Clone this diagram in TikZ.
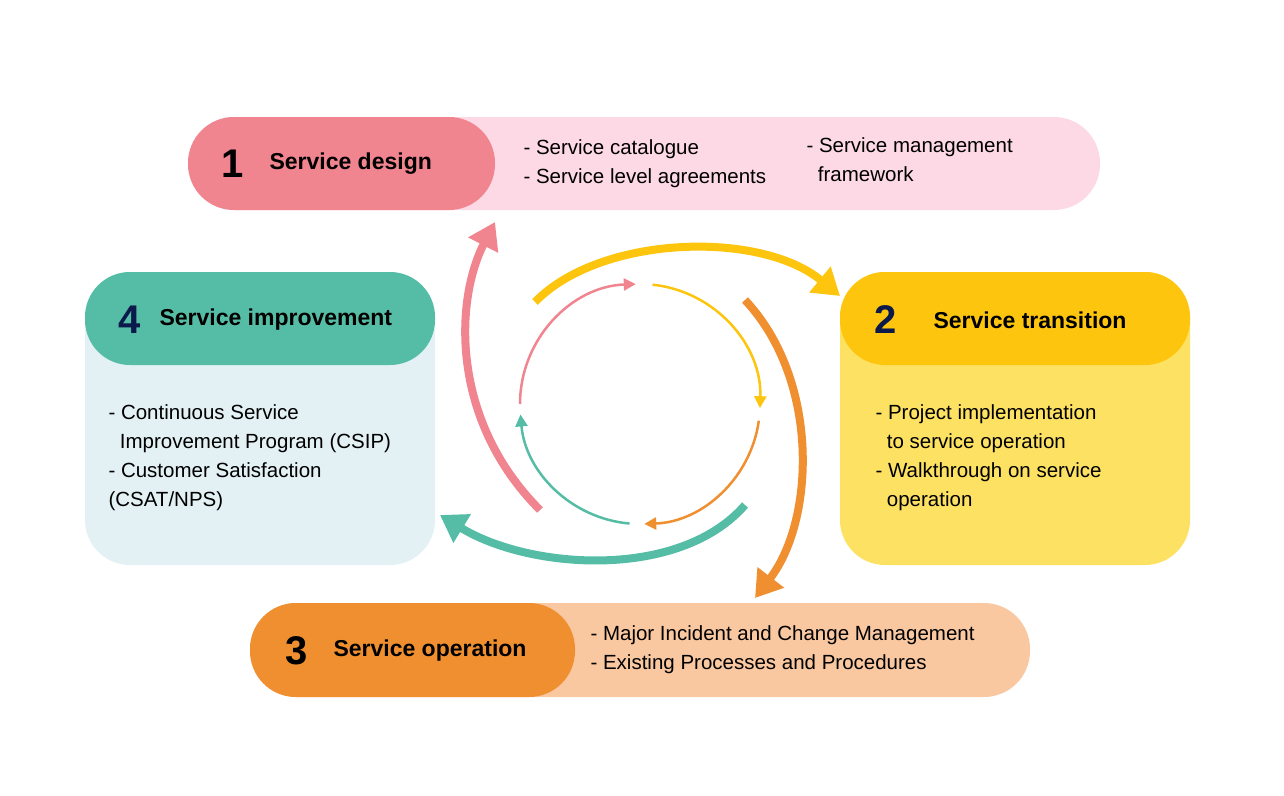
\documentclass[tikz,border=0pt]{standalone}
\usepackage{fontspec}
\setmainfont{Liberation Sans}
\usetikzlibrary{arrows.meta}
\definecolor{pinkD}{HTML}{F0848F}\definecolor{pinkL}{HTML}{FDD9E5}
\definecolor{yelD}{HTML}{FDC50E}\definecolor{yelL}{HTML}{FDE162}
\definecolor{tealD}{HTML}{55BDA6}\definecolor{tealL}{HTML}{E3F1F5}
\definecolor{orD}{HTML}{F08F30}\definecolor{orL}{HTML}{F9C8A1}
\definecolor{navy}{HTML}{0B1A4A}
\tikzset{
 num/.style={font=\bfseries\fontsize{40}{40}\selectfont,anchor=center},
 ttl/.style={font=\bfseries\fontsize{23}{26}\selectfont,anchor=west},
 body/.style={font=\fontsize{20.5}{29}\selectfont,anchor=north west,align=left},
 big/.style={line width=8pt,-{Triangle[length=26pt,width=32pt]}},
 small/.style={line width=2.5pt,-{Triangle[length=12pt,width=12pt]}}
}
\begin{document}
\begin{tikzpicture}[x=1pt,y=-1pt]
\useasboundingbox (0,0) rectangle (1284,795);
% 1
\fill[pinkL,rounded corners=46] (188,117) rectangle (1100,210);
\fill[pinkD,rounded corners=46] (188,117) rectangle (495,210);
\node[num] (n1) at (233,164) {1};
\node[ttl] (t1) at (266,164) {Service design};
\node[body] (b1) at (520,136) {- Service catalogue\\- Service level agreements};
\node[body] (b1b) at (803,134) {- Service management\\\ \ framework};
% 2
\fill[yelL,rounded corners=45] (840,272) rectangle (1190,565);
\fill[yelD,rounded corners=45] (840,272) rectangle (1190,365);
\node[num,navy] (n2) at (886,320) {2};
\node[ttl] (t2) at (930,320) {Service transition};
\node[body] (b2) at (872,401) {- Project implementation\\\ \ to service operation\\- Walkthrough on service\\\ \ operation};
% 4
\fill[tealL,rounded corners=45] (85,272) rectangle (435,565);
\fill[tealD,rounded corners=45] (85,272) rectangle (435,365);
\node[num,navy] (n4) at (130,320) {4};
\node[ttl] (t4) at (156,320) {Service improvement};
\node[body] (b4) at (105,401) {- Continuous Service\\\ \ Improvement Program (CSIP)\\- Customer Satisfaction\\(CSAT/NPS)};
% 3
\fill[orL,rounded corners=46] (250,603) rectangle (1030,697);
\fill[orD,rounded corners=46] (250,603) rectangle (575,697);
\node[num] (n3) at (297,651) {3};
\node[ttl] (t3) at (330,651) {Service operation};
\node[body] (b3) at (587,622) {- Major Incident and Change Management\\- Existing Processes and Procedures};
% big arrows
\coordinate (ps) at (540,510); \coordinate (pe) at (495,222);
\coordinate (ys) at (535,302); \coordinate (ye) at (840,296);
\coordinate (os) at (745,300); \coordinate (oe) at (755,598);
\coordinate (ts) at (745,505); \coordinate (te) at (440,515);
\draw[big,pinkD] (ps) .. controls (450,420) and (455,300) .. (pe);
\draw[big,yelD] (ys) .. controls (600,235) and (760,230) .. (ye);
\draw[big,orD] (os) .. controls (820,380) and (815,520) .. (oe);
\draw[big,tealD] (ts) .. controls (680,580) and (530,570) .. (te);
% small circle
\coordinate (c) at (640,404);
\draw[small,pinkD] (c) ++(180:120) arc (180:268:120);
\draw[small,yelD] (c) ++(276:120) arc (276:362:120);
\draw[small,orD] (c) ++(368:120) arc (368:448:120);
\draw[small,tealD] (c) ++(455:120) arc (455:535:120);
\end{tikzpicture}
\end{document}
